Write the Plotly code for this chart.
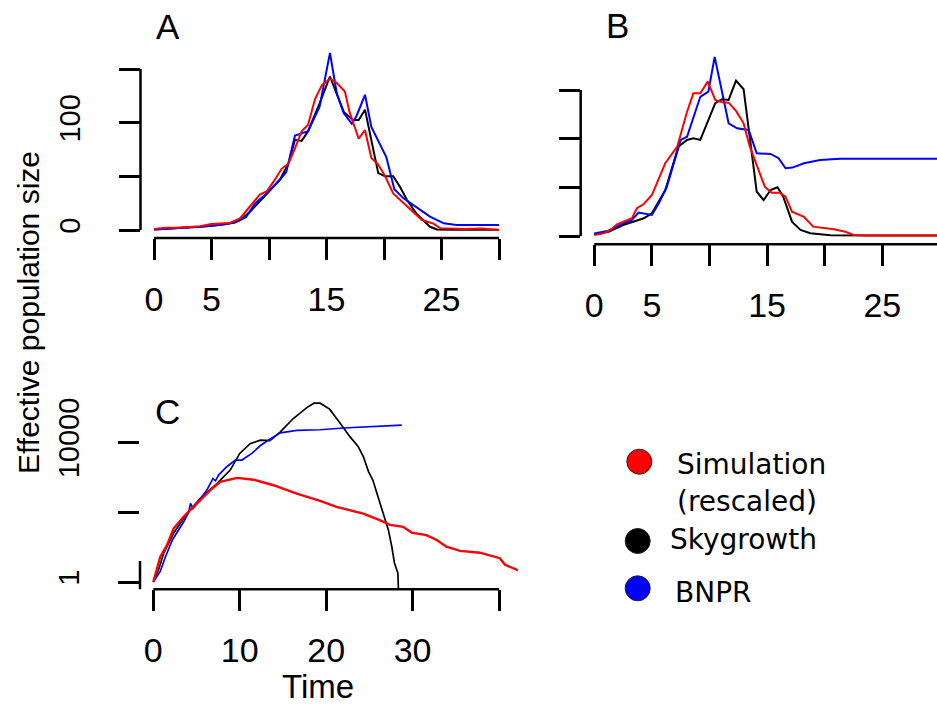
import math
import plotly.graph_objects as go

W, H = 937, 707

# ---------------- Panel A data ----------------
a_sim_t = [0, 1, 2, 3, 4, 5, 5.5, 6.6, 7.5, 8.35, 9.2, 9.8, 10.4, 11.1, 11.7, 12.26, 12.84, 13.4, 14.0, 14.6, 15.3,
           15.9, 16.6, 17.0, 17.8, 18.35, 18.9, 19.5, 20.1, 20.8, 21.4, 21.97, 22.7, 23.3, 24.3, 24.9, 27, 28.5, 30]
a_sim_v = [1, 2, 2, 2.5, 3.5, 5.5, 6, 6.5, 11, 22, 33, 36, 45, 57, 62, 76, 92, 98, 122, 135, 141,
           137, 129, 110, 85, 93, 67, 61, 50, 34, 28, 23, 15.5, 9.3, 6, 1.6, 1, 1.5, 0]
a_sky_t = [0, 1, 2, 3, 4, 5, 6, 7, 7.5, 8.35, 9.8, 10.96, 11.7, 12.26, 12.84, 13.4, 14.4, 15.3, 16.5, 17.3, 17.8,
           18.35, 19.5, 20.1, 20.8, 21.4, 22.0, 22.8, 24.0, 24.6, 26, 28, 30]
a_sky_v = [0.5, 1, 1.5, 2, 3, 4, 5, 7, 9.3, 17, 34, 47, 62, 84, 83, 92, 118, 143, 110, 102.5, 102.5,
           112, 53, 50, 50, 40, 28, 15.5, 3, 0.5, 0.3, 0.3, 0.3]
a_bnpr_t = [0, 1, 2, 3, 4, 5, 6, 7, 8, 8.8, 9.8, 10.96, 11.5, 12.26, 13.4, 14.4, 15.3, 15.9, 16.5, 17.2, 17.6,
            18.35, 18.9, 20.2, 20.9, 21.7, 22.8, 24, 25.2, 26.3, 28, 30]
a_bnpr_v = [0.5, 1, 1.5, 2, 3, 4, 5, 7, 12, 25, 34, 47, 54, 88, 92, 115, 165, 127, 109, 99, 106,
            126, 96, 68, 38, 29.5, 21.7, 12.4, 6.2, 4.7, 4.7, 4.7]

# ---------------- Panel B data ----------------
b_sim_t = [0, 0.8, 1.4, 1.97, 3.27, 3.7, 4.3, 5.0, 6.16, 7.2, 8.05, 8.6, 9.2, 9.85, 10.5, 11.1, 11.66, 12.3,
           12.96, 13.5, 14.8, 15.4, 16.1, 16.6, 17.16, 18.2, 19.0, 20.8, 21.8, 22.5, 23.6, 30]
b_sim_v = [1, 2.7, 6.2, 12, 18.2, 28.5, 32.9, 42.1, 74.7, 91.8, 127.7, 146.6, 146.6, 158.6, 139.8, 137.4, 137,
           128.5, 115.8, 91.8, 50.7, 44.5, 44.5, 40.4, 25, 19.8, 9.6, 6.9, 4.4, 1, 0.5, 0.5]
b_sky_t = [0, 1.24, 2.5, 3.4, 4.3, 5.0, 6.16, 7.3, 8.05, 8.6, 9.2, 10.5, 11.1, 11.66, 12.3, 12.96, 14.1, 14.7,
           15.3, 15.9, 16.4, 17.16, 17.9, 18.75, 20.5, 24.6, 30]
b_sky_v = [1.7, 4.4, 11.3, 14.7, 18.2, 23.3, 47, 91.8, 98.7, 100.4, 98.7, 136.4, 140.5, 139.8, 159.6, 150.8,
           45.5, 37, 47.3, 50, 40.4, 14.7, 6.2, 2.8, 0.7, 0.5, 0.5]
b_bnpr_t = [0, 1.24, 2.5, 3.2, 3.85, 5.0, 5.6, 6.3, 7.5, 8.05, 9.2, 9.9, 10.45, 11.1, 11.66, 12.4, 13.4, 14.1,
            15.3, 16.0, 16.6, 17.2, 18.2, 19.6, 21.35, 24.6, 30]
b_bnpr_v = [2.7, 5.4, 13, 15.7, 24, 21.6, 33.6, 50.7, 98.7, 102, 143, 148.3, 184, 146.7, 115.8, 110.7, 109, 85,
            84.3, 79.9, 69.6, 70.3, 74.7, 78, 79.4, 79.4, 79.4]

# ---------------- Panel C data (log scale) ----------------
c_sim_t = [0, 0.8, 1.6, 2.35, 3.5, 5.05, 6.6, 7.75, 9.7, 11.6, 13.9, 16.6, 19.3, 21.2, 24.3, 26.2, 27.4, 28.9,
           29.9, 31.6, 32.8, 33.9, 35.5, 37.8, 40.1, 40.7, 42.0, 43.0]
c_sim_v = [1, 5.2, 11.5, 34, 74, 178, 427, 740, 955, 850, 590, 340, 210, 141, 91, 59, 43, 38,
           26, 22, 16, 10.2, 7.8, 6.9, 4.8, 3.1, 2.2, 1.8]
c_sky_t = [0, 0.6, 1.2, 2.35, 3.9, 5.4, 7.36, 8.9, 10.0, 11.2, 12.4, 13.5, 14.7, 16.2, 17.8, 18.6, 19.3, 20.4,
           21.6, 22.75, 23.7, 24.3, 24.9, 25.4, 26.0, 26.6, 27.2, 27.6, 27.9, 28.3, 28.4]
c_sky_v = [1, 2.2, 6.6, 25, 91, 245, 660, 1600, 4800, 9100, 11500, 11200, 20000, 48000, 100000, 132000, 132000,
           89000, 35500, 14500, 7600, 3900, 1450, 830, 275, 93, 31, 10.2, 3.5, 1.8, 0.32]
c_bnpr_t = [0, 0.8, 1.4, 2.2, 3.5, 4.1, 4.3, 4.6, 5.2, 6.2, 6.9, 7.2, 7.55, 8.5, 9.5, 10.25, 11.4, 12.4, 13.3,
            14.7, 16.6, 19.3, 22, 25, 28.75]
c_bnpr_v = [1, 2, 5.2, 16, 52, 100, 178, 126, 200, 427, 910, 790, 1150, 2000, 3100, 3100, 4800, 8100, 11500,
            18600, 21900, 22900, 25700, 28200, 30900]

# ---------------- ticks / labels ----------------
a_xticks = [0, 5, 10, 15, 20, 25, 30]
a_xtext = ["0", "5", "", "15", "", "25", ""]
a_yticks = [0, 50, 100, 150]
a_ytext = ["0", "", "100", ""]
b_yticks = [0, 50, 100, 150]
b_ytext = ["", "", "", ""]
c_xticks = [0, 10, 20, 30, 40]
c_xtext = ["0", "10", "20", "30", ""]
c_yticks = [1, 100, 10000]
c_ytext = ["1", "", "10000"]

colors = ["#ff0000", "#000000", "#0000ff"]
ylabel = "Effective population size"
xlabel = "Time"
panel_labels = ["A", "B", "C"]
legend_lines = ["Simulation", "(rescaled)", "Skygrowth", "BNPR"]


def rng(p_lo, p_hi, v1, p1, v2, p2):
    s = (p2 - p1) / (v2 - v1)
    return [v1 + (p_lo - p1) / s, v1 + (p_hi - p1) / s]


def px(x):
    return x / W


def py(y):
    return 1 - y / H


# pixel geometry of the three panels
A = dict(l=140.5, r=514, b=238, t=45, x0p=154, x30p=499, y0p=230, y150p=69)
B = dict(l=580.7, r=937, b=244.3, t=45, x0p=594.3, x25p=882.3, y0p=236, y150p=90)
C = dict(l=140, r=518, b=589.3, t=395, x0p=153.3, x40p=499, y0p=582, y4p=442.3)

fig = go.Figure()


# draw order: black, blue, red on top (as in reference)
def add_panel(sim, sky, bnpr, xa, ya, w):
    for (t, v), c, n, lw in [(sky, colors[1], "Skygrowth", w[1]), (bnpr, colors[2], "BNPR", w[2]),
                             (sim, colors[0], "Simulation (rescaled)", w[0])]:
        fig.add_trace(go.Scatter(x=t, y=v, mode="lines", line=dict(color=c, width=lw),
                                 xaxis=xa, yaxis=ya, showlegend=False, name=n))


add_panel((a_sim_t, a_sim_v), (a_sky_t, a_sky_v), (a_bnpr_t, a_bnpr_v), "x", "y", [2, 2, 2])
add_panel((b_sim_t, b_sim_v), (b_sky_t, b_sky_v), (b_bnpr_t, b_bnpr_v), "x2", "y2", [2, 2, 2])
add_panel((c_sim_t, c_sim_v), (c_sky_t, c_sky_v), (c_bnpr_t, c_bnpr_v), "x3", "y3", [2.4, 1.7, 1.7])

tickfont_x = dict(family="Liberation Sans, Arial, sans-serif", size=34, color="black")
tickfont_y = dict(family="Liberation Sans, Arial, sans-serif", size=29, color="black")
TL = 21
TW = 2.5
XSO = 10
YSO = 27

common_x = dict(showgrid=False, zeroline=False, showline=False, ticks="outside", ticklen=TL, tickwidth=TW,
                tickcolor="black", tickfont=tickfont_x, tickmode="array", ticklabelstandoff=XSO, fixedrange=True)
common_y = dict(showgrid=False, zeroline=False, showline=False, ticks="outside", ticklen=TL, tickwidth=TW,
                tickcolor="black", tickfont=tickfont_y, tickmode="array", tickangle=-90,
                ticklabelstandoff=YSO, fixedrange=True)

fig.update_layout(
    xaxis=dict(common_x, domain=[px(A["l"]), px(A["r"])], anchor="y",
               range=rng(A["l"], A["r"], 0, A["x0p"], 30, A["x30p"]), tickvals=a_xticks, ticktext=a_xtext),
    yaxis=dict(common_y, domain=[py(A["b"]), py(A["t"])], anchor="x",
               range=rng(A["b"], A["t"], 0, A["y0p"], 150, A["y150p"]), tickvals=a_yticks, ticktext=a_ytext),
    xaxis2=dict(common_x, domain=[px(B["l"]), min(1, px(B["r"]))], anchor="y2",
                range=rng(B["l"], B["r"], 0, B["x0p"], 25, B["x25p"]), tickvals=a_xticks, ticktext=a_xtext),
    yaxis2=dict(common_y, domain=[py(B["b"]), py(B["t"])], anchor="x2",
                range=rng(B["b"], B["t"], 0, B["y0p"], 150, B["y150p"]), tickvals=b_yticks, ticktext=b_ytext),
    xaxis3=dict(common_x, domain=[px(C["l"]), px(C["r"])], anchor="y3",
                range=rng(C["l"], C["r"], 0, C["x0p"], 40, C["x40p"]), tickvals=c_xticks, ticktext=c_xtext),
    yaxis3=dict(common_y, type="log", domain=[py(C["b"]), py(C["t"])], anchor="x3",
                range=rng(C["b"], C["t"], 0, C["y0p"], 4, C["y4p"]), tickvals=c_yticks, ticktext=c_ytext),
)

# R-style axis lines spanning first..last tick
shapes = []
for xa, ya, P, xt, yt, logy in [("x", "y", A, a_xticks, a_yticks, False),
                                 ("x2", "y2", B, a_xticks, b_yticks, False),
                                 ("x3", "y3", C, c_xticks, c_yticks, True)]:
    shapes.append(dict(type="line", xref=xa, yref="paper", x0=min(xt), x1=max(xt), y0=py(P["b"]), y1=py(P["b"]),
                       line=dict(color="black", width=TW)))
    y0, y1 = min(yt), max(yt)
    if logy:
        y0, y1 = math.log10(y0), math.log10(y1)
    shapes.append(dict(type="line", xref="paper", yref=ya, x0=px(P["l"]), x1=px(P["l"]), y0=y0, y1=y1,
                       line=dict(color="black", width=TW)))

# legend circles
leg_font = dict(family="DejaVu Sans, sans-serif", size=28, color="black")
leg_items = [(639.3, 461.7), (637.7, 541.0), (637.7, 588.3)]
R = 12.5
for (cx, cy), col in zip(leg_items, colors):
    shapes.append(dict(type="circle", xref="paper", yref="paper", x0=px(cx - R), x1=px(cx + R),
                       y0=py(cy + R), y1=py(cy - R), fillcolor=col, line=dict(color="#222", width=1)))
fig.update_layout(shapes=shapes)

annots = []
lab_font = dict(family="Liberation Sans, Arial, sans-serif", size=35, color="black")
for txt, (x, y) in zip(panel_labels, [(168, 26), (617, 25), (167, 411)]):
    annots.append(dict(text=txt, x=px(x), y=py(y), xref="paper", yref="paper", showarrow=False,
                       xanchor="center", yanchor="middle", font=lab_font))
annots.append(dict(text=ylabel, x=px(28), y=py(313), xref="paper", yref="paper", showarrow=False, textangle=-90,
                   xanchor="center", yanchor="middle",
                   font=dict(family="Liberation Sans, Arial, sans-serif", size=30, color="black")))
annots.append(dict(text=xlabel, x=px(318), y=0, xref="paper", yref="paper", showarrow=False,
                   xanchor="center", yanchor="bottom",
                   font=dict(family="Liberation Sans, Arial, sans-serif", size=33, color="black")))
for txt, (x, y) in zip(legend_lines, [(675, 464), (675, 501), (668, 539), (673, 592)]):
    annots.append(dict(text=txt, x=px(x), y=py(y), xref="paper", yref="paper", showarrow=False,
                       xanchor="left", yanchor="middle", font=leg_font))
fig.update_layout(annotations=annots)

fig.update_layout(width=W, height=H, autosize=False, margin=dict(l=0, r=0, t=0, b=0),
                  paper_bgcolor="white", plot_bgcolor="white", showlegend=False)

fig.write_html("out.html")
